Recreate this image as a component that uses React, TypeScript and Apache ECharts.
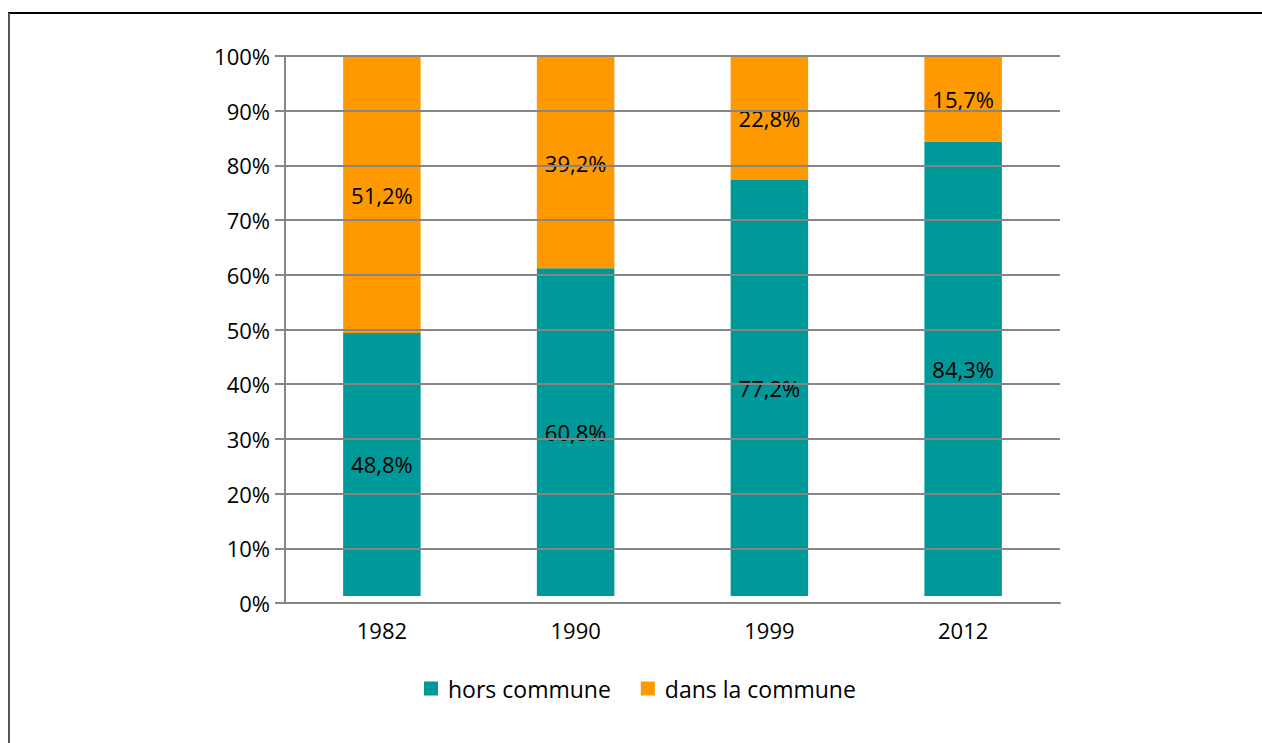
import React, { useEffect, useRef } from "react";
import * as echarts from "echarts";

const categories = ["1982", "1990", "1999", "2012"];
const horsCommune = [48.8, 60.8, 77.2, 84.3];
const dansCommune = [51.2, 39.2, 22.8, 15.7];
const seriesNames = ["hors commune", "dans la commune"];
const yTicks = { min: 0, max: 100, interval: 10 };

const FONT = "'Open Sans', 'Liberation Sans', sans-serif";
const GRAY = "#868686";
const TEAL = "#009999";
const ORANGE = "#ff9900";

const fmt = (v: number) => v.toFixed(1).replace(".", ",") + "%";

export default function App() {
  const ref = useRef<HTMLDivElement>(null);
  useEffect(() => {
    if (!ref.current) return;
    const chart = echarts.init(ref.current, undefined, { renderer: "svg" });
    const labelCfg = {
      show: true,
      position: "inside",
      color: "#000",
      fontFamily: FONT,
      fontSize: 22,
      formatter: (p: any) => fmt(p.value),
    };
    chart.setOption({
      animation: false,
      backgroundColor: "#fff",
      textStyle: { fontFamily: FONT },
      graphic: [
        { type: "line", shape: { x1: 8, y1: 13, x2: 1262, y2: 13 }, style: { stroke: "#000", lineWidth: 2 } },
        { type: "line", shape: { x1: 9, y1: 13, x2: 9, y2: 743 }, style: { stroke: "#555", lineWidth: 2 } },
      ],
      legend: {
        data: seriesNames,
        left: 419,
        top: 672,
        icon: "rect",
        itemWidth: 14,
        itemHeight: 14,
        itemGap: 30,
        textStyle: { fontFamily: FONT, fontSize: 23, color: "#000", padding: [0, 0, 0, 5] },
      },
      grid: [
        { left: 285, right: 202, top: 56, bottom: 140 },
        { left: 285, right: 202, top: 57, bottom: 147 },
      ],
      xAxis: [
        {
          type: "category",
          gridIndex: 0,
          data: categories,
          z: 5,
          axisLine: { show: true, lineStyle: { color: GRAY, width: 2 } },
          axisTick: { show: false },
          axisLabel: { color: "#000", fontFamily: FONT, fontSize: 22, margin: 16 },
        },
        {
          type: "category",
          gridIndex: 1,
          data: categories,
          show: false,
        },
      ],
      yAxis: [
        {
          type: "value",
          gridIndex: 0,
          min: yTicks.min,
          max: yTicks.max,
          interval: yTicks.interval,
          z: 5,
          axisLine: { show: true, lineStyle: { color: GRAY, width: 2 } },
          axisTick: { show: true, inside: false, length: 10, lineStyle: { color: GRAY, width: 2 } },
          splitLine: { show: true, lineStyle: { color: GRAY, width: 2 } },
          axisLabel: {
            formatter: "{value}%",
            color: "#000",
            fontFamily: FONT,
            fontSize: 22,
            margin: 15,
          },
        },
        {
          type: "value",
          gridIndex: 1,
          min: 0,
          max: 100,
          show: false,
        },
      ],
      series: [
        {
          name: seriesNames[0],
          type: "bar",
          stack: "total",
          xAxisIndex: 1,
          yAxisIndex: 1,
          barWidth: "40%",
          itemStyle: { color: TEAL },
          label: labelCfg,
          data: horsCommune,
        },
        {
          name: seriesNames[1],
          type: "bar",
          stack: "total",
          xAxisIndex: 1,
          yAxisIndex: 1,
          barWidth: "40%",
          itemStyle: { color: ORANGE },
          label: labelCfg,
          data: dansCommune,
        },
      ],
    });
    return () => chart.dispose();
  }, []);
  return (
    <div
      ref={ref}
      style={{ position: "absolute", left: 0, top: 0, width: 1262, height: 743 }}
    />
  );
}
